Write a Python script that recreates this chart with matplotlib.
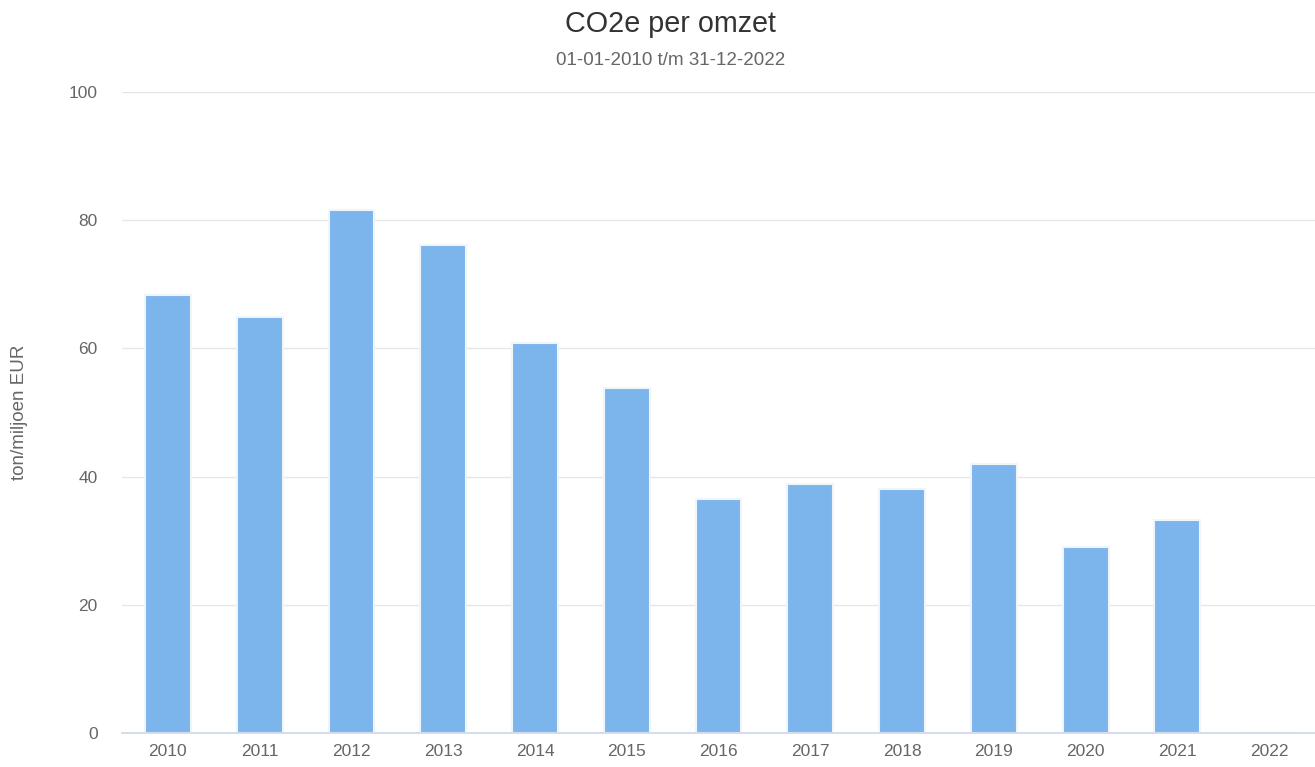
import numpy as np
import matplotlib.pyplot as plt

plt.rcParams['font.family'] = ['Liberation Sans', 'DejaVu Sans']

years = ['2010', '2011', '2012', '2013', '2014', '2015', '2016',
         '2017', '2018', '2019', '2020', '2021', '2022']
values = [68.3, 64.9, 81.6, 76.1, 60.8, 53.9, 36.5,
          38.8, 38.0, 41.9, 29.0, 33.3, 0.0]
yticks = [0, 20, 40, 60, 80, 100]

fig = plt.figure(figsize=(13.15, 7.67), dpi=100)
ax = fig.add_axes([0.0928, 0.0443, 0.9072, 0.8357])

x = np.arange(len(years))
ax.bar(x, values, width=0.5, color='#7cb5ec', edgecolor='#f0f5fc', linewidth=1.5, zorder=3)

ax.set_xlim(-0.5, len(years) - 0.5)
ax.set_ylim(0, 100)
ax.set_xticks(x)
ax.set_xticklabels(years)
ax.set_yticks(yticks)
ax.tick_params(axis='both', length=0, labelsize=12.5, colors='#666666')
ax.tick_params(axis='x', pad=8)
ax.tick_params(axis='y', pad=17.5)

ax.grid(axis='y', color='#e6e6e6', linewidth=1, zorder=0)
for s in ['top', 'right', 'left']:
    ax.spines[s].set_visible(False)
ax.spines['bottom'].set_color('#ccd6eb')
ax.spines['bottom'].set_linewidth(1.2)
ax.spines['bottom'].set_zorder(4)

ax.set_ylabel('ton/miljoen EUR', fontsize=13.5, color='#666666', labelpad=29)

fig.text(0.51, 0.969, 'CO2e per omzet', ha='center', va='center', fontsize=20.7, color='#333333')
fig.text(0.51, 0.921, '01-01-2010 t/m 31-12-2022', ha='center', va='center', fontsize=13.5, color='#666666')

fig.savefig('out.png', dpi=100)
